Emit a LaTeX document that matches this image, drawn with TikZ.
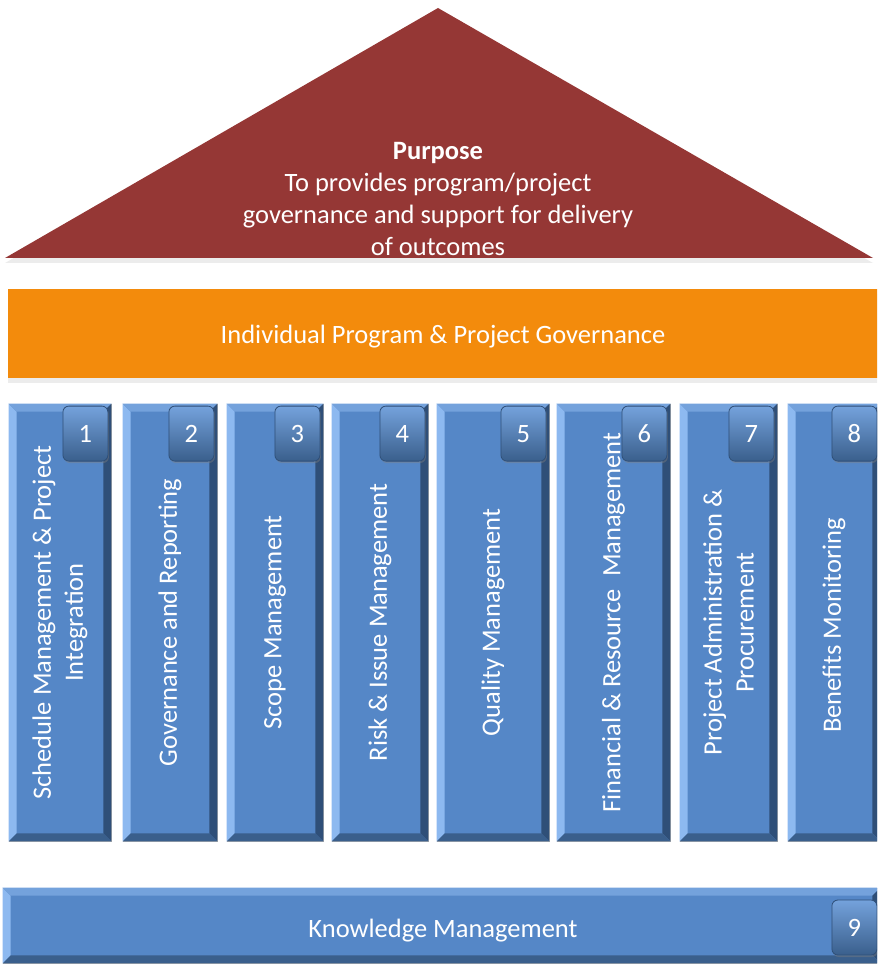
\documentclass[tikz,border=0pt]{standalone}
\usepackage{fontspec}
\setmainfont{Carlito}
\usetikzlibrary{calc, shadows}

\definecolor{roofred}{HTML}{953735}
\definecolor{govorange}{HTML}{F38B0C}
\definecolor{pillarblue}{HTML}{5587C7}
\definecolor{bevlight}{HTML}{8DB9F0}
\definecolor{bevtop}{HTML}{74A2DC}
\definecolor{bevdark}{HTML}{2F4F78}
\definecolor{bevbottom}{HTML}{3A5F8C}

\tikzset{
  pillar/.style={fill=pillarblue, draw=gray!60, line width=0.6pt, inner sep=0pt},
  pillartext/.style={rotate=90, text=white, align=center},
  badge/.style={minimum width=45pt, minimum height=55pt, inner sep=0pt,
                rounded corners=6pt, draw=bevdark, line width=0.8pt,
                top color=bevtop, middle color=pillarblue, bottom color=bevbottom,
                text=white, drop shadow={shadow xshift=1pt, shadow yshift=-2pt, opacity=.4}},
  softshadow/.style={drop shadow={shadow xshift=0pt, shadow yshift=-5pt, opacity=.15}},
}

\newcommand{\bevel}[2][8]{%
  \fill[bevlight] (#2.north west) -- (#2.south west) -- ($(#2.south west)+(#1,-#1)$) -- ($(#2.north west)+(#1,#1)$) -- cycle;
  \fill[bevtop] (#2.north west) -- (#2.north east) -- ($(#2.north east)+(-#1,#1)$) -- ($(#2.north west)+(#1,#1)$) -- cycle;
  \fill[bevdark] (#2.north east) -- (#2.south east) -- ($(#2.south east)+(-#1,-#1)$) -- ($(#2.north east)+(-#1,#1)$) -- cycle;
  \fill[bevbottom] (#2.south west) -- (#2.south east) -- ($(#2.south east)+(-#1,-#1)$) -- ($(#2.south west)+(#1,-#1)$) -- cycle;
}

\begin{document}
\begin{tikzpicture}[x=1pt, y=-1pt, font=\fontsize{26.5}{32}\selectfont]

\useasboundingbox (0,0) rectangle (877,965);
\clip (0,0) rectangle (877,965);

% roof
\fill[roofred, softshadow] (5,258) -- (438,8) -- (873,258) -- cycle;
\node[text=white, align=center] (purpose) at (438,199)
  {\textbf{Purpose}\\To provides program/project\\governance and support for delivery\\of outcomes};

\node[fill=govorange, minimum width=877pt, minimum height=89pt, inner sep=0pt, softshadow]
      (governance) at (446.5,333.5) {};
\node[text=white] (govtext) at (443,337) {Individual Program \& Project Governance};

\foreach \idx/\xa/\xb/\lab in {
  1/9/111/{Schedule Management \& Project\\Integration},
  2/123/217/{Governance and Reporting},
  3/227/323/{Scope Management},
  4/332/428/{Risk \& Issue Management},
  5/437/549/{Quality Management},
  6/557/670/{Financial \& Resource~~Management},
  7/680/777/{Project Administration \&\\Procurement},
  8/788/880/{Benefits Monitoring}
}{
  \node[pillar, minimum width={(\xb-\xa)*1pt}, minimum height=437pt]
        (P\idx) at ({(\xa+\xb)/2},622.5) {};
  \bevel{P\idx}
  \node[pillartext] (T\idx) at (P\idx.center) {\lab};
  \node[badge, anchor=north east] (N\idx) at ($(P\idx.north east)+(-3,2)$) {\idx};
}

\node[pillar, minimum width=877pt, minimum height=75pt]
      (knowledge) at (441.5,925.5) {};
\bevel{knowledge}
\node[text=white] (knowtext) at (443,931) {Knowledge Management};
\node[badge, anchor=east] (N9) at ($(knowledge.east)+(-3,2)$) {9};

\end{tikzpicture}
\end{document}
